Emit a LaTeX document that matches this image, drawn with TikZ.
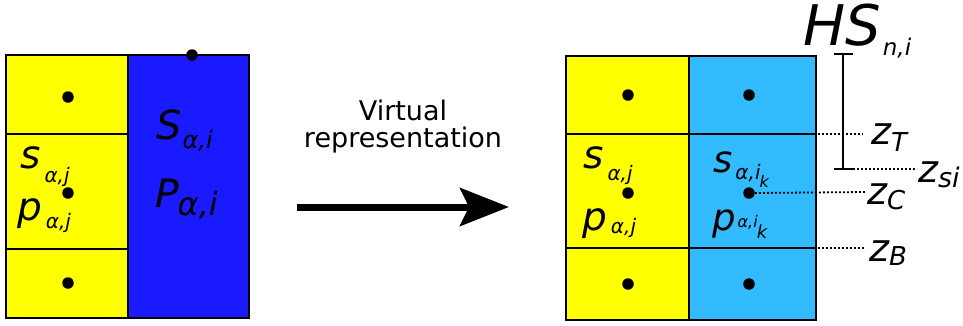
\documentclass[tikz,border=0pt]{standalone}
\usepackage{fontspec}
\setmainfont{DejaVu Sans}
\usetikzlibrary{arrows.meta}
\definecolor{cellyellow}{RGB}{255,255,0}
\definecolor{cellblue}{RGB}{26,26,255}
\definecolor{cellsky}{RGB}{51,187,255}
% font size in pt, with matching baseline skip
\newcommand{\fs}[1]{\fontsize{#1}{#1}\selectfont}
% lowered index: size, drop, text
\newcommand{\idx}[3]{\raisebox{-#2pt}{\fs{#1}\itshape #3}}
\begin{document}
\begin{tikzpicture}[x=1pt,y=-1pt,
  cell/.style={draw=black,line width=2.1pt},
  dot/.style={circle,fill=black,inner sep=0pt,minimum size=11.5pt},
  lbl/.style={anchor=base west,inner sep=0pt,font=\itshape},
  dotline/.style={line width=1.8pt,dash pattern=on 1.8pt off 2.2pt},
  bar/.style={line width=1.8pt}]
\useasboundingbox (0,0) rectangle (963,325);

% ---- left column pair ----
\filldraw[cell,fill=cellblue] (128,55) rectangle (249,318);
\filldraw[cell,fill=cellyellow] (6,55) rectangle (128,134);
\filldraw[cell,fill=cellyellow] (6,134) rectangle (128,249);
\filldraw[cell,fill=cellyellow] (6,249) rectangle (128,318);

\node[dot] (lt) at (68,97) {};
\node[dot] (lc) at (68,193) {};
\node[dot] (lb) at (68,283) {};
\node[dot] (bt) at (192,55) {};

\node[lbl] (sLj) at (20,168) {\fs{39}s\kern4pt\idx{20}{14}{α,j}};
\node[lbl] (pLj) at (17,220) {\fs{39}p\kern4pt\idx{20}{8}{α,j}};
\node[lbl] (SLi) at (156,139) {\fs{40}S\kern1pt\idx{24}{9}{α,i}};
\node[lbl] (PLi) at (155,207) {\fs{39}P\kern-1pt\idx{32}{8}{α,i}};

% ---- arrow ----
\node[anchor=base,inner sep=0pt,font=\fs{27}] (vt) at (403,120) {Virtual};
\node[anchor=base,inner sep=0pt,font=\fs{27}] (vr) at (403,147) {representation};
\coordinate (aS) at (297,207);
\coordinate (aE) at (509,207);
\draw[line width=7pt,-{Stealth[length=49pt,width=38pt,inset=9pt]}] (aS) -- (aE);

% ---- right column pair ----
\filldraw[cell,fill=cellyellow] (566,56) rectangle (689,134);
\filldraw[cell,fill=cellyellow] (566,134) rectangle (689,248);
\filldraw[cell,fill=cellyellow] (566,248) rectangle (689,320);
\filldraw[cell,fill=cellsky] (689,56) rectangle (816,134);
\filldraw[cell,fill=cellsky] (689,134) rectangle (816,248);
\filldraw[cell,fill=cellsky] (689,248) rectangle (816,320);

\node[dot] (rt) at (628,95) {};
\node[dot] (rc) at (628,193) {};
\node[dot] (rb) at (628,284) {};
\node[dot] (kt) at (749,95) {};
\node[dot] (kc) at (749,193) {};
\node[dot] (kb) at (749,284) {};

\node[lbl] (sRj) at (583,168) {\fs{39}s\kern4pt\idx{20}{12}{α,j}};
\node[lbl] (pRj) at (582,230) {\fs{39}p\kern4pt\idx{20}{3}{α,j}};
\node[lbl] (sRk) at (713,172) {\fs{37}s\kern3pt\idx{20}{7}{α,i}\kern-1pt\idx{16}{15}{k}};
\node[lbl] (pRk) at (712,230) {\fs{37}p\kern2pt\idx{16}{-3}{α,i}\kern-1pt\idx{18}{8}{k}};

% ---- height scale ----
\node[lbl] (HS) at (803,45) {\fs{56}HS\kern2pt\idx{23}{10}{n,i}};
\coordinate (hTop) at (843,54);
\coordinate (hBot) at (843,169);
\draw[bar] (hTop) -- (hBot);
\draw[bar] ([xshift=-9pt]hTop) -- ([xshift=10pt]hTop);
\draw[bar] ([xshift=-9pt]hBot) -- ([xshift=10pt]hBot);

% ---- level markers ----
\coordinate (zT0) at (818,134);
\coordinate (zT1) at (863,134);
\coordinate (zS0) at (853,169);
\coordinate (zS1) at (917,169);
\coordinate (zC1) at (865,192);
\coordinate (zB0) at (818,248);
\coordinate (zB1) at (865,248);
\draw[dotline] (zT0) -- (zT1);
\draw[dotline] (zS0) -- (zS1);
\draw[dotline] (kc.east) -- (zC1);
\draw[dotline] (zB0) -- (zB1);

\node[lbl] (zT) at (871,144) {\fs{38}z\idx{26}{7}{T}};
\node[lbl] (zS) at (918,182) {\fs{38}z\idx{27}{5}{si}};
\node[lbl] (zC) at (867,204) {\fs{38}z\idx{26}{5}{C}};
\node[lbl] (zB) at (869,261) {\fs{38}z\idx{26}{4}{B}};
\end{tikzpicture}
\end{document}
